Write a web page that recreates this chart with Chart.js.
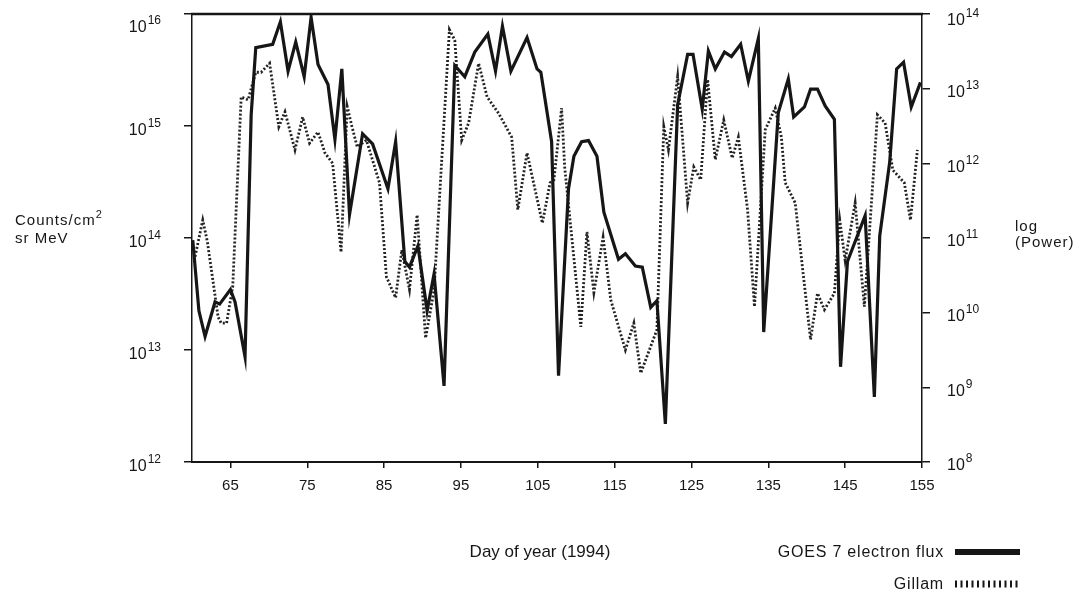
<!DOCTYPE html>
<html>
<head>
<meta charset="utf-8">
<title>GOES 7 electron flux and Gillam power, 1994</title>
<script src="https://cdn.jsdelivr.net/npm/chart.js@4.4.1/dist/chart.umd.min.js"></script>
<style>
  html, body { margin: 0; padding: 0; background: #fff; }
  canvas { display: block; }
</style>
</head>
<body>
<canvas id="fluxChart" width="1080" height="594"></canvas>
<script>
// GOES 7 electron flux, log10(counts/cm2 sr MeV), left axis
const goesDays = [60.1, 60.9, 61.7, 63.0, 63.6, 65.0, 65.6, 66.9, 67.7, 68.3,
    70.5, 71.5, 72.5, 73.5, 74.6, 75.5, 76.4, 77.7, 78.6, 79.5,
    80.5, 82.2, 83.5, 85.5, 86.5, 87.7, 88.3, 89.4, 90.6, 91.5,
    92.8, 94.2, 95.5, 96.8, 98.5, 99.5, 100.4, 101.5, 103.6, 104.9,
    105.4, 106.8, 107.7, 109.0, 109.7, 110.7, 111.6, 112.7, 113.6, 115.5,
    116.4, 117.7, 118.6, 119.7, 120.5, 121.6, 123.2, 124.5, 125.2, 126.4,
    127.2, 128.1, 129.3, 130.2, 131.4, 132.4, 133.7, 134.4, 136.3, 137.6,
    138.3, 139.7, 140.5, 141.4, 142.4, 143.6, 144.4, 145.3, 147.6, 148.8,
    149.5, 150.8, 151.7, 152.6, 153.6, 154.8];
const goesLog = [13.98, 13.35, 13.12, 13.43, 13.41, 13.54, 13.43, 12.94, 15.10, 15.70,
    15.73, 15.93, 15.49, 15.75, 15.44, 15.97, 15.55, 15.37, 14.88, 15.51,
    14.21, 14.93, 14.84, 14.44, 14.86, 13.79, 13.74, 13.93, 13.35, 13.68,
    12.68, 15.54, 15.44, 15.66, 15.82, 15.49, 15.89, 15.49, 15.79, 15.51,
    15.48, 14.86, 12.77, 14.44, 14.73, 14.86, 14.87, 14.73, 14.23, 13.81,
    13.86, 13.75, 13.74, 13.38, 13.44, 12.34, 15.19, 15.64, 15.64, 15.15,
    15.67, 15.51, 15.66, 15.62, 15.73, 15.40, 15.78, 13.16, 15.12, 15.42,
    15.08, 15.17, 15.33, 15.33, 15.18, 15.06, 12.85, 13.79, 14.20, 12.58,
    14.02, 14.68, 15.51, 15.57, 15.17, 15.39];

// Gillam, log10(power), right axis
const gillamDays = [60.4, 61.4, 62.0, 63.4, 63.8, 64.5, 65.3, 66.4, 67.3, 68.3,
    69.0, 70.1, 71.3, 72.1, 73.4, 74.4, 75.3, 76.4, 77.3, 78.3,
    79.4, 80.2, 80.8, 81.5, 82.7, 84.4, 85.3, 86.5, 87.3, 88.3,
    89.3, 90.4, 91.5, 93.5, 94.2, 95.1, 96.0, 97.3, 98.4, 99.9,
    101.6, 102.4, 103.6, 105.6, 106.6, 107.1, 108.1, 108.5, 110.6, 111.4,
    112.3, 113.5, 114.5, 116.4, 117.5, 118.4, 120.5, 121.4, 122.0, 123.2,
    124.5, 125.3, 126.2, 127.1, 128.1, 129.2, 130.3, 131.1, 132.3, 133.2,
    133.7, 134.6, 135.9, 136.7, 137.2, 138.5, 140.5, 141.4, 142.3, 143.6,
    144.3, 145.0, 146.3, 147.5, 149.2, 150.2, 151.2, 152.7, 153.5, 154.4];
const gillamLog = [10.75, 11.24, 10.95, 9.94, 9.86, 9.86, 10.35, 12.89, 12.85, 13.22,
    13.22, 13.34, 12.49, 12.69, 12.18, 12.62, 12.27, 12.42, 12.14, 12.00,
    10.81, 12.76, 12.50, 12.22, 12.31, 11.74, 10.48, 10.20, 10.84, 10.31,
    11.31, 9.66, 10.30, 13.79, 13.65, 12.31, 12.54, 13.34, 12.89, 12.67,
    12.35, 11.38, 12.14, 11.20, 11.74, 11.78, 12.74, 11.95, 9.81, 11.08,
    10.27, 11.01, 10.17, 9.50, 9.86, 9.19, 9.77, 12.49, 12.18, 13.16,
    11.47, 11.95, 11.78, 13.12, 12.05, 12.58, 12.07, 12.35, 11.38, 10.08,
    10.93, 12.45, 12.74, 12.35, 11.74, 11.47, 9.64, 10.26, 10.04, 10.26,
    11.24, 10.70, 11.47, 10.08, 12.65, 12.54, 11.91, 11.74, 11.24, 12.18];

const dayTicks = [65, 75, 85, 95, 105, 115, 125, 135, 145, 155];
const fluxExponents = [12, 13, 14, 15, 16];
const powerExponents = [8, 9, 10, 11, 12, 13, 14];

const FONT = '"Liberation Sans", Arial, Helvetica, sans-serif';
const INK = '#161616';

function toPoints(days, logs) {
    return days.map((d, i) => ({ x: d, y: Math.pow(10, logs[i]) }));
}

function decadeTicks(exponents) {
    return exponents.map(e => ({ value: Math.pow(10, e) }));
}

// "10" with a raised exponent
function drawPower(ctx, x, y, exp, align) {
    const e = String(exp);
    ctx.font = '16px ' + FONT;
    const baseW = ctx.measureText('10').width;
    ctx.font = '12px ' + FONT;
    const expW = ctx.measureText(e).width;
    const left = align === 'right' ? x - baseW - expW - 1 : x;
    ctx.textAlign = 'left';
    ctx.textBaseline = 'middle';
    ctx.font = '16px ' + FONT;
    ctx.fillText('10', left, y);
    ctx.font = '12px ' + FONT;
    ctx.fillText(e, left + baseW + 1, y - 7);
}

const decorations = {
    id: 'decorations',
    afterDraw(chart) {
        const ctx = chart.ctx;
        const area = chart.chartArea;
        const yLeft = chart.scales.y;
        const yRight = chart.scales.y1;
        ctx.save();

        // heavy top rule of the frame
        ctx.strokeStyle = INK;
        ctx.lineWidth = 2.5;
        ctx.beginPath();
        ctx.moveTo(area.left - 1, area.top);
        ctx.lineTo(area.right + 1, area.top);
        ctx.stroke();

        ctx.fillStyle = INK;
        yLeft.ticks.forEach(t => {
            const py = yLeft.getPixelForValue(t.value);
            drawPower(ctx, 161, Math.max(py + 5, 28), Math.round(Math.log10(t.value)), 'right');
        });
        yRight.ticks.forEach(t => {
            const py = yRight.getPixelForValue(t.value);
            drawPower(ctx, 947, Math.max(py + 4, 21), Math.round(Math.log10(t.value)), 'left');
        });

        ctx.letterSpacing = '1px';
        ctx.textAlign = 'left';
        ctx.textBaseline = 'alphabetic';

        // left axis title
        ctx.font = '15px ' + FONT;
        ctx.fillText('Counts/cm', 15, 225);
        const cw = ctx.measureText('Counts/cm').width;
        ctx.font = '11px ' + FONT;
        ctx.fillText('2', 15 + cw, 218);
        ctx.font = '15px ' + FONT;
        ctx.fillText('sr MeV', 15, 243);

        // right axis title
        ctx.fillText('log', 1015, 231);
        ctx.fillText('(Power)', 1015, 247);

        // x axis title
        ctx.font = '17px ' + FONT;
        ctx.letterSpacing = '0px';
        ctx.textAlign = 'center';
        ctx.fillText('Day of year (1994)', 540, 557);

        // legend
        ctx.textAlign = 'right';
        ctx.font = '16px ' + FONT;
        ctx.letterSpacing = '0.8px';
        ctx.fillText('GOES 7 electron flux', 944, 557);
        ctx.fillText('Gillam', 944, 589);

        ctx.lineWidth = 6;
        ctx.beginPath();
        ctx.moveTo(955, 552);
        ctx.lineTo(1020, 552);
        ctx.stroke();

        ctx.lineWidth = 7;
        ctx.setLineDash([2, 3.5]);
        ctx.beginPath();
        ctx.moveTo(955, 584);
        ctx.lineTo(1020, 584);
        ctx.stroke();

        ctx.restore();
    }
};

const ctx = document.getElementById('fluxChart').getContext('2d');

new Chart(ctx, {
    type: 'line',
    data: {
        datasets: [{
            label: 'GOES 7 electron flux',
            data: toPoints(goesDays, goesLog),
            yAxisID: 'y',
            borderColor: INK,
            borderWidth: 3.2,
            pointRadius: 0,
            tension: 0
        }, {
            label: 'Gillam',
            data: toPoints(gillamDays, gillamLog),
            yAxisID: 'y1',
            borderColor: '#222222',
            borderWidth: 2.8,
            borderDash: [2, 2],
            pointRadius: 0,
            tension: 0
        }]
    },
    options: {
        responsive: false,
        animation: false,
        layout: { padding: { top: 14, left: 0, right: 0, bottom: 0 } },
        plugins: {
            legend: { display: false },
            tooltip: { enabled: false }
        },
        scales: {
            x: {
                type: 'linear',
                position: 'bottom',
                min: 60,
                max: 155,
                afterBuildTicks: scale => { scale.ticks = dayTicks.map(v => ({ value: v })); },
                afterFit: scale => { scale.height = 132; },
                ticks: {
                    color: INK,
                    font: { family: FONT, size: 15 },
                    padding: 9,
                    maxRotation: 0
                },
                grid: { drawOnChartArea: false, tickLength: 6, color: INK, lineWidth: 1.5 },
                border: { color: INK, width: 2 }
            },
            y: {
                type: 'logarithmic',
                position: 'left',
                min: 1e12,
                max: 1e16,
                afterBuildTicks: scale => { scale.ticks = decadeTicks(fluxExponents); },
                afterFit: scale => { scale.width = 192; },
                ticks: { display: false },
                grid: { drawOnChartArea: false, tickLength: 8, color: INK, lineWidth: 1.5 },
                border: { color: INK, width: 1.5 }
            },
            y1: {
                type: 'logarithmic',
                position: 'right',
                min: 1e8,
                max: 1e14,
                afterBuildTicks: scale => { scale.ticks = decadeTicks(powerExponents); },
                afterFit: scale => { scale.width = 158; },
                ticks: { display: false },
                grid: { drawOnChartArea: false, tickLength: 8, color: INK, lineWidth: 1.5 },
                border: { color: INK, width: 1.5 }
            }
        }
    },
    plugins: [decorations]
});
</script>
</body>
</html>
